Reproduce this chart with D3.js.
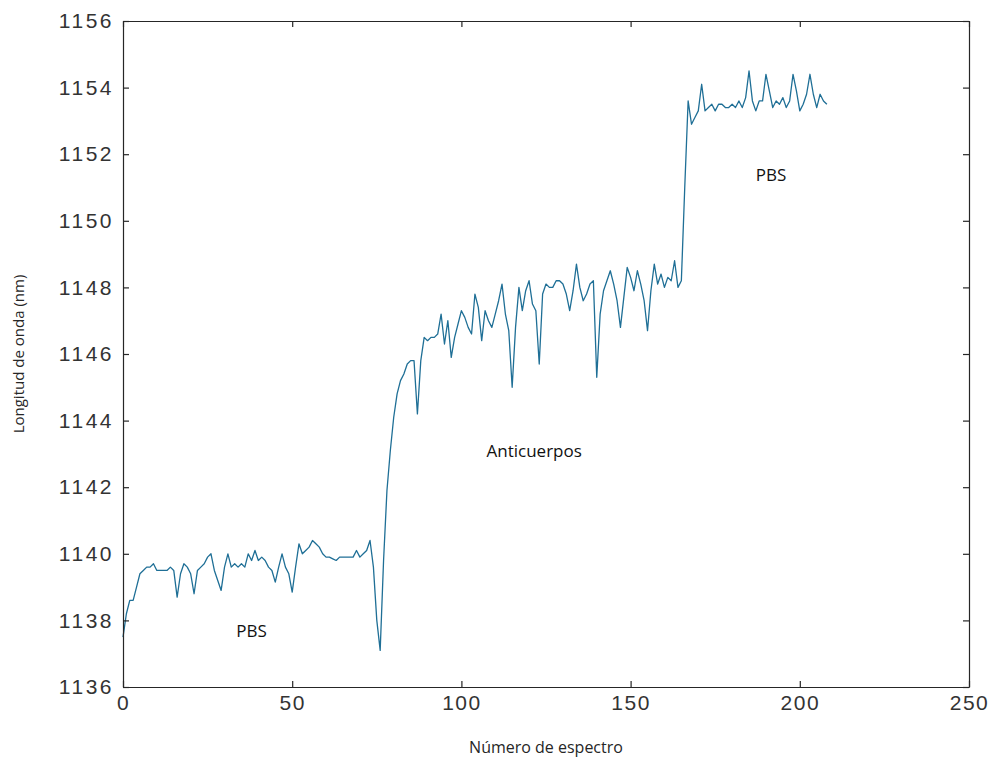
<!DOCTYPE html>
<html lang="es">
<head>
<meta charset="UTF-8">
<title>Longitud de onda</title>
<style>
  body { margin: 0; background: #fff; }
  svg text { font-family: 'Liberation Sans', Arial, sans-serif; }
  .ann { font-family: 'Open Sans', 'Noto Sans', sans-serif; }
</style>
<script src="https://d3js.org/d3.v7.min.js"></script>
</head>
<body>
<svg width="992" height="762"></svg>
<script>
// wavelength per spectrum number (0..208)
const wavelength = [
  1137.5, 1138.2, 1138.6, 1138.6, 1139.0, 1139.4, 1139.5, 1139.6, 1139.6, 1139.7,
  1139.5, 1139.5, 1139.5, 1139.5, 1139.6, 1139.5, 1138.7, 1139.4, 1139.7, 1139.6,
  1139.4, 1138.8, 1139.5, 1139.6, 1139.7, 1139.9, 1140.0, 1139.5, 1139.2, 1138.9,
  1139.6, 1140.0, 1139.6, 1139.7, 1139.6, 1139.7, 1139.6, 1140.0, 1139.8, 1140.1,
  1139.8, 1139.9, 1139.8, 1139.6, 1139.5, 1139.15, 1139.6, 1140.0, 1139.6, 1139.4,
  1138.85, 1139.6, 1140.3, 1140.0, 1140.1, 1140.2, 1140.4, 1140.3, 1140.2, 1140.0,
  1139.9, 1139.9, 1139.85, 1139.8, 1139.9, 1139.9, 1139.9, 1139.9, 1139.9, 1140.1,
  1139.9, 1140.0, 1140.1, 1140.4, 1139.6, 1138.0, 1137.1, 1139.8, 1141.9, 1143.1,
  1144.1, 1144.8, 1145.2, 1145.4, 1145.7, 1145.8, 1145.8, 1144.2, 1145.8, 1146.5,
  1146.4, 1146.5, 1146.5, 1146.6, 1147.2, 1146.3, 1147.0, 1145.9, 1146.5, 1146.9,
  1147.3, 1147.1, 1146.8, 1146.6, 1147.8, 1147.4, 1146.4, 1147.3, 1147.0, 1146.8,
  1147.2, 1147.6, 1148.1, 1147.2, 1146.7, 1145.0, 1146.8, 1148.0, 1147.3, 1147.9,
  1148.2, 1147.5, 1147.3, 1145.7, 1147.8, 1148.1, 1148.0, 1148.0, 1148.2, 1148.2,
  1148.1, 1147.8, 1147.3, 1147.9, 1148.7, 1148.0, 1147.6, 1147.8, 1148.1, 1148.2,
  1145.3, 1147.2, 1147.9, 1148.2, 1148.5, 1148.1, 1147.6, 1146.8, 1147.7, 1148.6,
  1148.3, 1147.9, 1148.5, 1148.1, 1147.6, 1146.7, 1147.9, 1148.7, 1148.1, 1148.4,
  1148.0, 1148.3, 1148.2, 1148.8, 1148.0, 1148.2, 1151.0, 1153.6, 1152.9, 1153.1,
  1153.3, 1154.1, 1153.3, 1153.4, 1153.5, 1153.3, 1153.5, 1153.5, 1153.4, 1153.4,
  1153.5, 1153.4, 1153.6, 1153.4, 1153.7, 1154.5, 1153.6, 1153.3, 1153.6, 1153.6,
  1154.4, 1153.9, 1153.4, 1153.6, 1153.5, 1153.7, 1153.4, 1153.6, 1154.4, 1153.9,
  1153.3, 1153.5, 1153.8, 1154.4, 1153.8, 1153.4, 1153.8, 1153.6, 1153.5
];
const spectrum = wavelength.map((v, i) => i);

const xTicks = [0, 50, 100, 150, 200, 250];
const yTicks = [1136, 1138, 1140, 1142, 1144, 1146, 1148, 1150, 1152, 1154, 1156];

// text annotations placed at data coordinates
const notes = [
  { label: "PBS", x: 38, y: 1137.5 },
  { label: "Anticuerpos", x: 121.5, y: 1142.9 },
  { label: "PBS", x: 191.5, y: 1151.2 }
];

const svg = d3.select("svg");
const mLeft = 123, mRight = 969, mTop = 21, mBottom = 687;
const axisColor = "#262626";
const fmt = d3.format("d");

const x = d3.scaleLinear().domain([0, 250]).range([mLeft, mRight]);
const y = d3.scaleLinear().domain([1136, 1156]).range([mBottom, mTop]);

// the line
const line = d3.line()
    .x((d, i) => x(spectrum[i]))
    .y(d => y(d));

svg.append("path")
    .datum(wavelength)
    .attr("fill", "none")
    .attr("stroke", "#1f6f96")
    .attr("stroke-width", 1.3)
    .attr("stroke-linejoin", "round")
    .attr("d", line);

// axes, ticks inside, mirrored on all four sides
const tickLen = 6;
svg.append("g").attr("transform", `translate(0,${mBottom})`)
    .call(d3.axisBottom(x).tickValues(xTicks).tickFormat(fmt).tickSizeInner(-tickLen).tickSizeOuter(0).tickPadding(8))
    .call(g => g.selectAll("text").style("font-size", "21px").style("letter-spacing", "1.5px").attr("fill", "#333"));
svg.append("g").attr("transform", `translate(0,${mTop})`)
    .call(d3.axisTop(x).tickValues(xTicks).tickSizeInner(-tickLen).tickSizeOuter(0).tickFormat(""));
svg.append("g").attr("transform", `translate(${mLeft},0)`)
    .call(d3.axisLeft(y).tickValues(yTicks).tickFormat(fmt).tickSizeInner(-tickLen).tickSizeOuter(0).tickPadding(9))
    .call(g => g.selectAll("text").style("font-size", "21px").style("letter-spacing", "2.5px").attr("fill", "#333"));
svg.append("g").attr("transform", `translate(${mRight},0)`)
    .call(d3.axisRight(y).tickValues(yTicks).tickSizeInner(-tickLen).tickSizeOuter(0).tickFormat(""));

svg.selectAll(".domain, .tick line").attr("stroke", axisColor).attr("stroke-width", 1.2);

// x-axis and y-axis titles
svg.append("text")
    .attr("class", "ann")
    .attr("x", (mLeft + mRight) / 2)
    .attr("y", 753)
    .attr("text-anchor", "middle")
    .style("font-size", "16px")
    .attr("fill", axisColor)
    .text("Número de espectro");

svg.append("text")
    .attr("class", "ann")
    .attr("transform", `translate(24,${(mTop + mBottom) / 2}) rotate(-90)`)
    .attr("text-anchor", "middle")
    .style("font-size", "15px")
    .attr("fill", axisColor)
    .text("Longitud de onda (nm)");

svg.selectAll(".note")
    .data(notes)
    .enter().append("text")
    .attr("class", "ann note")
    .attr("x", d => x(d.x))
    .attr("y", d => y(d.y))
    .attr("text-anchor", "middle")
    .style("font-size", "17px")
    .attr("fill", "#111")
    .text(d => d.label);
</script>
</body>
</html>
